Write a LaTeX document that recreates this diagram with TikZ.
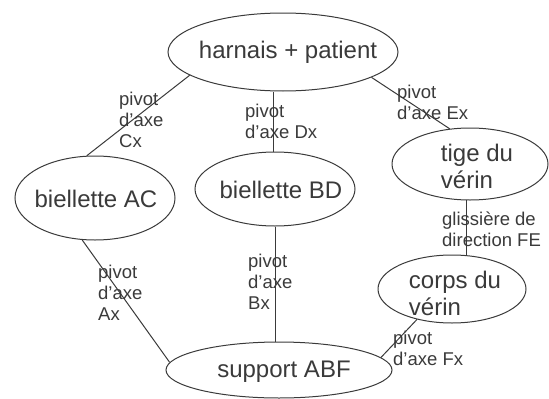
\documentclass[tikz,border=0pt]{standalone}
\usepackage{fontspec}
\setmainfont{Liberation Sans}
\usetikzlibrary{shapes.geometric}
\definecolor{ink}{HTML}{3A3A3A}
\begin{document}
\begin{tikzpicture}[x=1pt,y=-1pt,
  bub/.style={draw=ink, line width=1pt, ellipse, inner sep=0pt},
  big/.style={text=ink, font=\fontsize{24}{27}\selectfont, align=left, inner sep=0pt},
  lab/.style={text=ink, font=\fontsize{18.5}{21}\selectfont, align=left, inner sep=0pt, anchor=west},
  link/.style={draw=ink, line width=1pt}]
\useasboundingbox (0,0) rectangle (549,399);
% ellipses
\node[bub, minimum width=230pt, minimum height=78pt] (h) at (283,52) {};
\node[bub, minimum width=160pt, minimum height=84pt] (ac) at (95,198) {};
\node[bub, minimum width=160pt, minimum height=74pt] (bd) at (275,189) {};
\node[bub, minimum width=156pt, minimum height=72pt] (t) at (470,164) {};
\node[bub, minimum width=148pt, minimum height=68pt] (c) at (452,289) {};
\node[bub, minimum width=226pt, minimum height=56pt] (s) at (279,370) {};
% texts
\node[big] (ht) at (288,52) {harnais + patient};
\node[big] (act) at (96,199) {biellette AC};
\node[big] (bdt) at (281,190) {biellette BD};
\node[big] (tt) at (477,166.5) {tige du\\vérin};
\node[big] (ct) at (455,293) {corps du\\vérin};
\node[big] (st) at (284,372) {support ABF};
% connectors
\draw[link] (h.194) -- (ac.101);
\draw[link] (bd.93) -- (bd.93 |- h.south);
\draw[link] (h.-16) -- (t.120);
\draw[link] (ac.253) -- (s.176);
\draw[link] (bd.south) -- (bd.south |- s.north);
\draw[link] (t.265) -- (t.265 |- c.north);
\draw[link] (c.221) -- (s.7);
% labels
\node[lab] (l1) at (119,120) {pivot\\d'axe\\Cx};
\node[lab] (l2) at (245,121) {pivot\\d'axe Dx};
\node[lab] (l3) at (397,102) {pivot\\d'axe Ex};
\node[lab] (l4) at (442,229) {glissière de\\direction FE};
\node[lab] (l5) at (98,293) {pivot\\d'axe\\Ax};
\node[lab] (l6) at (248,282) {pivot\\d'axe\\Bx};
\node[lab] (l7) at (393,348) {pivot\\d'axe Fx};
\end{tikzpicture}
\end{document}
